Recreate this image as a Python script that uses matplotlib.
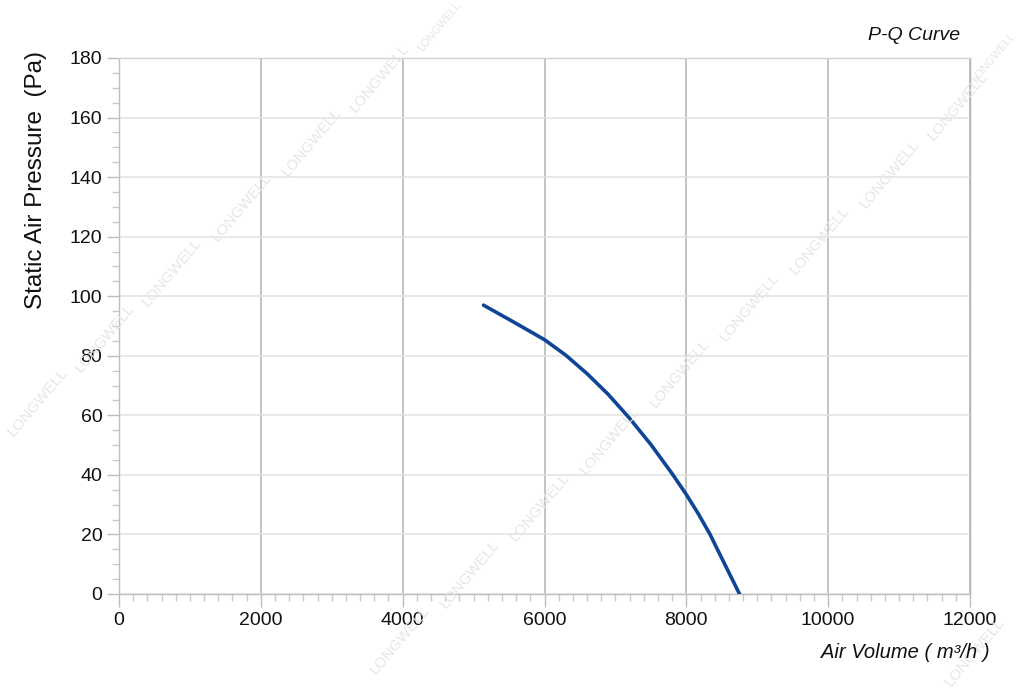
import numpy as np
import matplotlib.pyplot as plt
from matplotlib.ticker import MultipleLocator

plt.rcParams['font.family'] = ['Liberation Sans', 'DejaVu Sans']

# P-Q curve
air_volume = [5140, 5560, 6000, 6300, 6600, 6900, 7200, 7500, 7800, 8000,
              8170, 8335, 8450, 8600, 8750]
static_pressure = [97, 91.4, 85.4, 80.2, 74.0, 67.0, 59.0, 50.2, 40.4, 33.4,
                   26.9, 20, 14.4, 7.2, 0]

x_ticks = [0, 2000, 4000, 6000, 8000, 10000, 12000]
y_ticks = [0, 20, 40, 60, 80, 100, 120, 140, 160, 180]

fig = plt.figure(figsize=(10.24, 6.91), dpi=100)
ax = fig.add_axes([119 / 1024, 97 / 691, 851 / 1024, 536 / 691])

# watermark, figure pixel coords of each word centre (+ font size)
W, H = 1024, 691
marks = [(38, 402, 11), (105, 338, 11), (172, 272, 11), (242, 207, 11), (312, 142, 11),
         (380, 78, 11), (440, 27, 8),
         (400, 640, 11), (470, 574, 11), (540, 507, 11), (610, 440, 11), (680, 373, 11),
         (750, 307, 11), (820, 240, 11), (890, 174, 11), (958, 106, 11), (994, 58, 8),
         (975, 652, 11)]
for mx, my, fs in marks:
    fig.text(mx / W, 1 - my / H, "LONGWELL", rotation=50, color="#e6e6e6",
             fontsize=fs, ha="center", va="center", zorder=0)

ax.set_facecolor("none")
ax.plot(air_volume, static_pressure, color="#0f4596", linewidth=2.6,
        solid_capstyle="round", solid_joinstyle="round", zorder=3)

ax.set_xlim(0, 12000)
ax.set_ylim(0, 180)
ax.set_xticks(x_ticks)
ax.set_yticks(y_ticks)
ax.xaxis.set_minor_locator(MultipleLocator(200))
ax.yaxis.set_minor_locator(MultipleLocator(5))

ax.grid(axis="x", which="major", color="#b3b3b3", linewidth=1.1)
ax.grid(axis="y", which="major", color="#e2e2e2", linewidth=1.1)

for side in ["left", "bottom", "top", "right"]:
    ax.spines[side].set_color("#d0d0d0")
    ax.spines[side].set_linewidth(1.0)
ax.spines["left"].set_color("#c0c0c0")
ax.spines["bottom"].set_color("#c0c0c0")
ax.spines["right"].set_color("#b3b3b3")

ax.tick_params(axis="both", which="major", length=9, color="#bdbdbd",
               labelsize=14, labelcolor="#111111", width=1)
ax.tick_params(axis="both", which="minor", length=5, color="#c8c8c8", width=1)
ax.tick_params(axis="x", which="major", pad=4)
ax.tick_params(axis="y", which="major", pad=3)

fig.text(36 / W, 1 - 180 / H, "Static Air Pressure  (Pa)", rotation=90,
         fontsize=17.5, ha="center", va="center", color="#111111")
fig.text(960 / W, 1 - 35 / H, "P-Q Curve", fontsize=14, style="italic",
         ha="right", va="center", color="#111111")
fig.text(990 / W, 1 - 653 / H, "Air Volume ( m³/h )", fontsize=14.5,
         style="italic", ha="right", va="center", color="#111111")

fig.savefig("out.png", dpi=100)
